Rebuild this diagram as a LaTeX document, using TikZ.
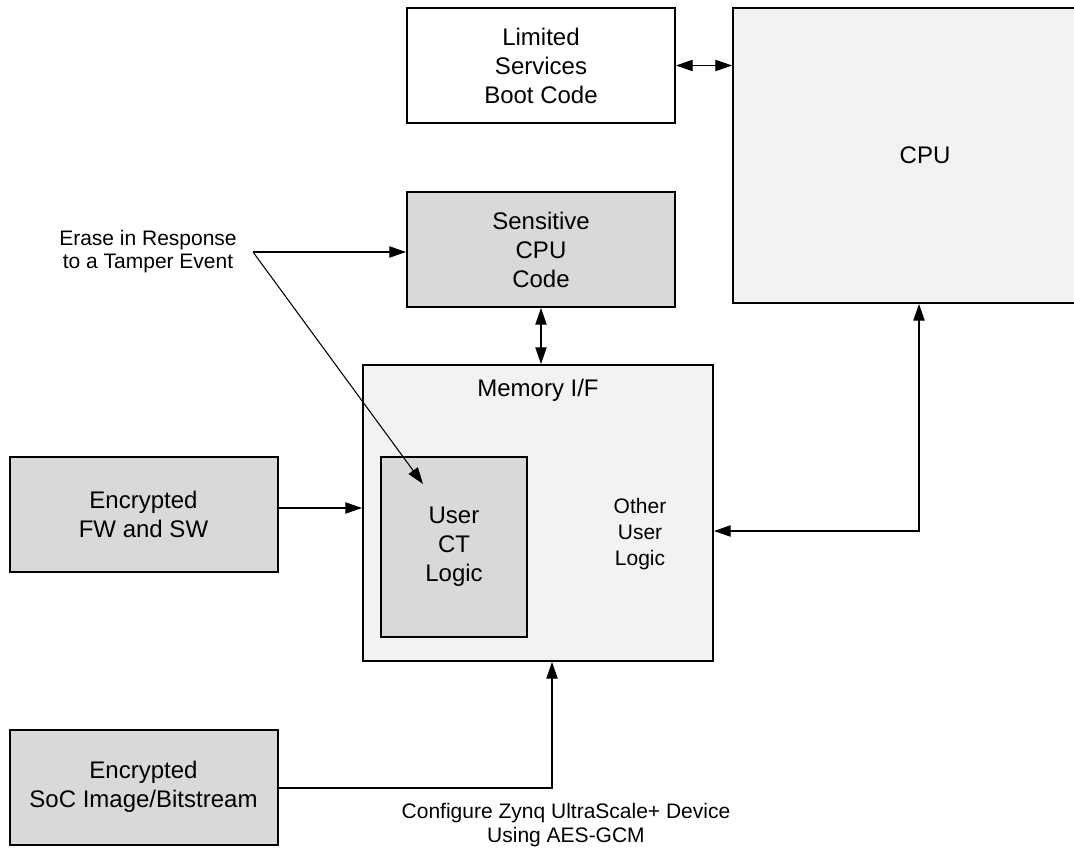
\documentclass[tikz,border=0pt]{standalone}
\usepackage{fontspec}
\setmainfont{Liberation Sans}
\usetikzlibrary{positioning,arrows.meta}
\definecolor{lightfill}{HTML}{F2F2F2}
\definecolor{darkfill}{HTML}{D9D9D9}
\begin{document}
\begin{tikzpicture}[x=0.75pt, y=-0.75pt, >={Triangle[length=12.5pt, width=8.5pt]}, line width=0.8pt, every node/.style={rectangle, inner sep=0pt, align=center, font=\fontsize{18}{21.75}\selectfont}, blk/.style={draw, line width=1.5pt, minimum width=201pt, minimum height=86.25pt}, note/.style={font=\fontsize{15.75}{17.25}\selectfont}]

	\clip (0,0) rectangle (1074,848);

	\node [blk, fill=white] (L) at (541,65.5) {Limited\\Services\\Boot Code};
	\node [blk, fill=darkfill] (S) [below=50.25pt of L] {Sensitive\\CPU\\Code};
	\node [draw, line width=1.5pt, fill=lightfill, minimum width=288pt, minimum height=221.25pt] (C) at (925,155.5) {CPU};

	\node [draw, line width=1.5pt, fill=lightfill, minimum width=262.5pt, minimum height=222pt] (M) at (538,513) {};
	\node (MI) at (538,390) {Memory I/F};
	\node [draw, line width=1.5pt, fill=darkfill, minimum width=109.5pt, minimum height=135pt] (U) at (454,547) {User\\CT\\Logic};
	\node [note, font=\fontsize{15.75}{19.5}\selectfont] (O) at (640,534) {Other\\User\\Logic};

	\node [blk, fill=darkfill] (FW) at (143.5,514) {Encrypted\\FW and SW};
	\node [blk, fill=darkfill] (SoC) [below=117pt of FW] {Encrypted\\SoC Image/Bitstream};

	\node [note] (E) at (148,252) {Erase in Response\\to a Tamper Event};
	\node [note, font=\fontsize{15.75}{18}\selectfont] (G) at (566,825) {Configure Zynq UltraScale+ Device\\Using AES-GCM};

	% connectors
	\coordinate (T) at (253,252);
	\coordinate (UT) at (423,484);
	\coordinate (K) at (919,531);
	\coordinate (B) at (552,788);

	\draw [<->] (L.east) -- (L.east -| C.west);
	\draw [<->] (S.south) -- (S.south |- M.north);
	\draw [->] (T) -- (T -| S.west);
	\draw [->] (T) -- (UT);
	\draw [->] ([yshift=4.5pt]FW.east) -- ([yshift=4.5pt]FW.east -| M.west);
	\draw [<->] (K -| M.east) -- (K) -- (K |- C.south);
	\draw [->] (SoC.east |- B) -- (B) -- (B |- M.south);

\end{tikzpicture}
\end{document}
